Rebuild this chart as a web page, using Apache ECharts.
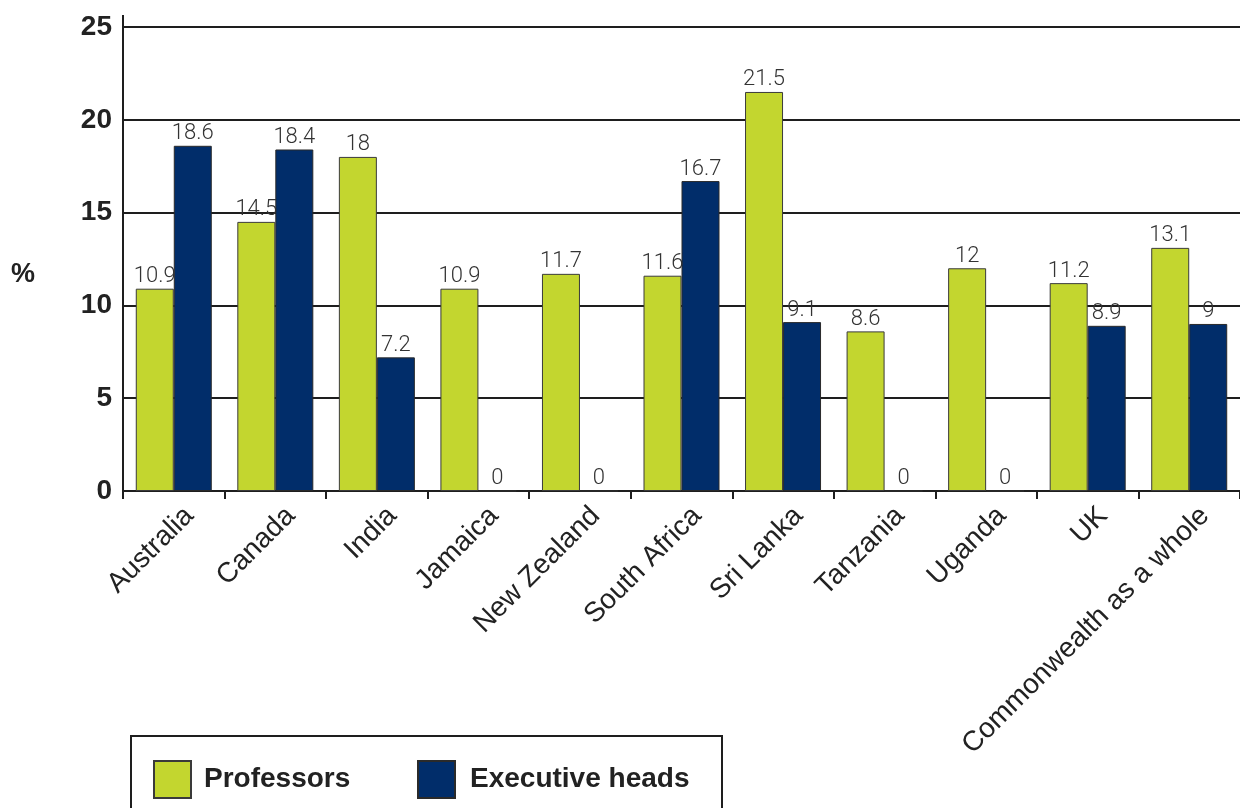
<!DOCTYPE html>
<html>
<head>
<meta charset="utf-8">
<script src="https://cdn.jsdelivr.net/npm/echarts@6/dist/echarts.min.js"></script>
<style>
  html, body { margin: 0; padding: 0; background: #fff; }
  #chart { width: 1240px; height: 808px; }
</style>
</head>
<body>
<div id="chart"></div>
<script>
// Share of women among professors and executive heads, by country (%)
const countries = ['Australia', 'Canada', 'India', 'Jamaica', 'New Zealand', 'South Africa',
  'Sri Lanka', 'Tanzania', 'Uganda', 'UK', 'Commonwealth as a whole'];
const professors = [10.9, 14.5, 18, 10.9, 11.7, 11.6, 21.5, 8.6, 12, 11.2, 13.1];
const executiveHeads = [18.6, 18.4, 7.2, 0, 0, 16.7, 9.1, 0, 0, 8.9, 9];
const yTicks = { min: 0, max: 25, interval: 5 };

const GREEN = '#c3d62f';
const NAVY = '#012d6a';
const INK = '#1e1e1e';
const BASE_FONT = "'Liberation Sans', Arial, Helvetica, sans-serif";
const LIGHT_FONT = "Roboto, 'Liberation Sans', sans-serif";

const valueLabel = {
  show: true,
  position: 'top',
  distance: 1,
  color: '#333',
  fontFamily: LIGHT_FONT,
  fontWeight: 300,
  fontSize: 22
};

const chart = echarts.init(document.getElementById('chart'), null, { renderer: 'canvas' });

chart.setOption({
  animation: false,
  backgroundColor: '#fff',
  grid: { left: 123, right: -5, top: 27, bottom: 317, containLabel: false },
  xAxis: {
    type: 'category',
    data: countries,
    axisLine: { show: true, lineStyle: { color: INK, width: 2 } },
    axisTick: { show: true, length: 8, lineStyle: { color: INK, width: 2 } },
    axisLabel: {
      rotate: 45,
      interval: 0,
      margin: 5,
      verticalAlign: 'top',
      padding: [8, 0, 0, 0],
      color: '#222',
      fontFamily: BASE_FONT,
      fontSize: 28
    },
    splitLine: { show: false }
  },
  yAxis: {
    type: 'value',
    min: yTicks.min,
    max: yTicks.max,
    interval: yTicks.interval,
    axisLine: { show: true, lineStyle: { color: INK, width: 2 } },
    axisTick: { show: false },
    axisLabel: {
      margin: 11,
      color: '#222',
      fontFamily: BASE_FONT,
      fontWeight: 'bold',
      fontSize: 28
    },
    splitLine: { show: true, lineStyle: { color: INK, width: 2 } }
  },
  legend: [
    {
      data: ['Professors'],
      left: 148, top: 755,
      itemWidth: 37, itemHeight: 37,
      icon: 'rect',
      textStyle: { color: '#222', fontFamily: BASE_FONT, fontWeight: 'bold', fontSize: 28, padding: [0, 0, 0, 8] }
    },
    {
      data: ['Executive heads'],
      left: 412, top: 755,
      itemWidth: 37, itemHeight: 37,
      icon: 'rect',
      textStyle: { color: '#222', fontFamily: BASE_FONT, fontWeight: 'bold', fontSize: 28, padding: [0, 0, 0, 10] }
    }
  ],
  graphic: [
    // axis line runs a little above the top gridline
    { type: 'line', shape: { x1: 123, y1: 15, x2: 123, y2: 28 }, style: { stroke: INK, lineWidth: 2 } },
    // "%" unit label
    { type: 'text', left: 11, top: 261, style: { text: '%', fill: '#222', font: "bold 27px 'Liberation Sans', Arial, sans-serif" } },
    // legend frame
    { type: 'rect', shape: { x: 131, y: 736, width: 591, height: 90 }, style: { fill: 'none', stroke: INK, lineWidth: 2 }, z: 0 }
  ],
  series: [
    {
      name: 'Professors',
      type: 'bar',
      data: professors,
      barWidth: 38,
      barGap: '0%',
      itemStyle: { color: GREEN, borderColor: '#3a3a3a', borderWidth: 1 },
      label: valueLabel
    },
    {
      name: 'Executive heads',
      type: 'bar',
      data: executiveHeads,
      barWidth: 38,
      barGap: '0%',
      itemStyle: { color: NAVY, borderColor: '#2a2a2a', borderWidth: 1 },
      label: valueLabel
    }
  ]
});
</script>
</body>
</html>
